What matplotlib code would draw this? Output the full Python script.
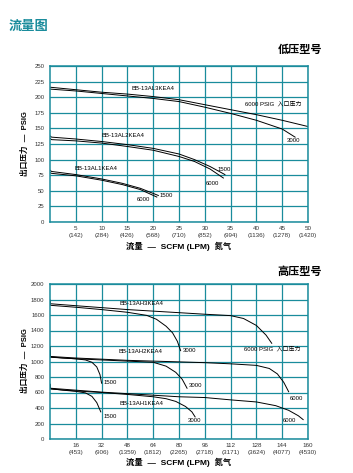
import numpy as np
import matplotlib
matplotlib.use('Agg')
import matplotlib.pyplot as plt

plt.rcParams['font.family'] = ['Liberation Sans', 'Noto Sans CJK SC', 'DejaVu Sans']

teal = '#1a8c9c'

# ---- low pressure models (SCFM, PSIG)
low_xticks = [5, 10, 15, 20, 25, 30, 35, 40, 45, 50]
low_lpm = ['142', '284', '426', '568', '710', '852', '994', '1136', '1278', '1420']
low_yticks = [0, 25, 50, 75, 100, 125, 150, 175, 200, 225, 250]

l3_6000_x = [0, 5, 10, 15, 20, 25, 30, 35, 40, 45, 50]
l3_6000_y = [216, 212, 208, 205, 201, 196, 188, 180, 172, 163, 153]
l3_3000_x = [0, 5, 10, 15, 20, 25, 30, 35, 40, 45, 47.5]
l3_3000_y = [213, 210, 206, 202, 198, 193, 184, 174, 163, 149, 136]

l2_1500_x = [0, 0.3, 5, 10, 15, 20, 25, 28, 31, 33.9]
l2_1500_y = [138, 136, 133, 129, 124, 118, 109, 100, 89, 76]
l2_6000_x = [0, 0.3, 5, 10, 15, 20, 25, 28, 31, 33.6]
l2_6000_y = [134, 132, 130, 126.5, 121, 115, 105, 97, 85, 70.5]

l1_1500_x = [0, 0.3, 5, 10, 14, 17.5, 21]
l1_1500_y = [83, 81, 76, 69, 62, 54, 42.5]
l1_6000_x = [0, 0.3, 5, 10, 14, 17.5, 20.7]
l1_6000_y = [79, 78, 74, 67, 60, 52, 40]

# ---- high pressure models
high_xticks = [16, 32, 48, 64, 80, 96, 112, 128, 144, 160]
high_lpm = ['453', '906', '1359', '1812', '2265', '2718', '3171', '3624', '4077', '4530']
high_yticks = [0, 200, 400, 600, 800, 1000, 1200, 1400, 1600, 1800, 2000]

h3_6000_x = [0, 0.3, 16, 32, 48, 64, 80, 96, 112, 120, 128, 134, 137.5]
h3_6000_y = [1790, 1745, 1720, 1695, 1670, 1650, 1630, 1610, 1592, 1555, 1465, 1340, 1235]
h3_3000_x = [0, 0.3, 16, 32, 48, 60, 66, 72, 76, 79, 81]
h3_3000_y = [1790, 1725, 1700, 1670, 1635, 1595, 1545, 1455, 1370, 1260, 1140]

h2_1500_x = [0, 0.3, 8, 16, 22, 26, 29, 31, 32]
h2_1500_y = [1190, 1060, 1045, 1035, 1020, 990, 930, 830, 720]
h2_3000_x = [0, 0.3, 16, 32, 48, 64, 72, 78, 82, 85]
h2_3000_y = [1190, 1055, 1035, 1020, 1005, 990, 940, 860, 770, 655]
h2_6000_x = [0, 0.3, 16, 32, 48, 64, 80, 96, 112, 128, 136, 141, 145, 148]
h2_6000_y = [1190, 1065, 1045, 1030, 1015, 1005, 995, 985, 970, 950, 910, 840, 730, 610]

h1_1500_x = [0, 0.3, 8, 16, 22, 26, 29, 31.5]
h1_1500_y = [705, 650, 630, 615, 595, 550, 470, 350]
h1_3000_x = [0, 0.3, 16, 32, 48, 64, 72, 78, 84, 88, 90]
h1_3000_y = [705, 645, 620, 600, 575, 545, 520, 485, 420, 350, 285]
h1_6000_x = [0, 0.3, 16, 32, 48, 64, 80, 96, 112, 128, 140, 148, 154, 157]
h1_6000_y = [705, 655, 630, 605, 585, 565, 545, 535, 505, 478, 430, 370, 300, 250]


def setup(ax, xticks, lpm, yticks):
    ax.set_xlim(0, xticks[-1])
    ax.set_ylim(0, yticks[-1])
    ax.set_xticks(xticks)
    ax.set_xticklabels(['%d\n(%s)' % (a, b) for a, b in zip(xticks, lpm)],
                       fontsize=4.5, linespacing=1.4, color='#333333')
    ax.set_yticks(yticks)
    ax.set_yticklabels([str(v) for v in yticks], fontsize=4.3, color='#333333')
    ax.tick_params(length=0)
    ax.tick_params(axis='x', pad=3)
    ax.tick_params(axis='y', pad=4)
    ax.grid(True, color=teal, lw=0.9)
    for s in ax.spines.values():
        s.set_color(teal)
        s.set_linewidth(1.1)
    ax.set_axisbelow(True)


fig = plt.figure(figsize=(3.53, 4.73), dpi=100)

fig.text(9 / 353, 1 - 27 / 473, '流量图', color=teal, fontsize=9.5,
         fontweight='bold', va='center', ha='left')
fig.text(322 / 353, 1 - 50 / 473, '低压型号', fontsize=8,
         fontweight='bold', va='center', ha='right')
fig.text(322 / 353, 1 - 272 / 473, '高压型号', fontsize=8,
         fontweight='bold', va='center', ha='right')

# low pressure chart
ax1 = fig.add_axes([50 / 353, 1 - 222 / 473, 258 / 353, 156 / 473])
setup(ax1, low_xticks, low_lpm, low_yticks)
for xs, ys in [(l3_6000_x, l3_6000_y), (l3_3000_x, l3_3000_y),
               (l2_1500_x, l2_1500_y), (l2_6000_x, l2_6000_y),
               (l1_1500_x, l1_1500_y), (l1_6000_x, l1_6000_y)]:
    ax1.plot(xs, ys, color='black', lw=0.7)

fs = 4.3
ax1.text(15.8, 214, 'BB-13AL3KEA4', fontsize=fs, va='center')
ax1.text(37.8, 188.6, '6000 PSIG  入口压力', fontsize=fs, va='center')
ax1.text(45.9, 130, '3000', fontsize=fs, va='center')
ax1.text(10, 139, 'BB-13AL2KEA4', fontsize=fs, va='center')
ax1.text(32.4, 84.5, '1500', fontsize=fs, va='center')
ax1.text(30.2, 62, '6000', fontsize=fs, va='center')
ax1.text(4.8, 86, 'BB-13AL1KEA4', fontsize=fs, va='center')
ax1.text(21.3, 43, '1500', fontsize=fs, va='center')
ax1.text(16.9, 36, '6000', fontsize=fs, va='center')

# high pressure chart
ax2 = fig.add_axes([50 / 353, 1 - 439 / 473, 258 / 353, 155 / 473])
setup(ax2, high_xticks, high_lpm, high_yticks)
for xs, ys in [(h3_6000_x, h3_6000_y), (h3_3000_x, h3_3000_y),
               (h2_1500_x, h2_1500_y), (h2_3000_x, h2_3000_y), (h2_6000_x, h2_6000_y),
               (h1_1500_x, h1_1500_y), (h1_3000_x, h1_3000_y), (h1_6000_x, h1_6000_y)]:
    ax2.plot(xs, ys, color='black', lw=0.7)

ax2.text(42.8, 1751, 'BB-13AH3KEA4', fontsize=fs, va='center')
ax2.text(120.3, 1161, '6000 PSIG  入口压力', fontsize=fs, va='center')
ax2.text(82.5, 1148, '3000', fontsize=fs, va='center')
ax2.text(42.2, 1126, 'BB-13AH2KEA4', fontsize=fs, va='center')
ax2.text(32.9, 735, '1500', fontsize=fs, va='center')
ax2.text(86.2, 684, '3000', fontsize=fs, va='center')
ax2.text(148.8, 525, '6000', fontsize=fs, va='center')
ax2.text(42.8, 460, 'BB-13AH1KEA4', fontsize=fs, va='center')
ax2.text(32.9, 284, '1500', fontsize=fs, va='center')
ax2.text(85.6, 245, '3000', fontsize=fs, va='center')
ax2.text(144.5, 245, '6000', fontsize=fs, va='center')

# axis titles
for ytxt, ycen in [(246, 144), (462, 361)]:
    fig.text(179 / 353, 1 - ytxt / 473, '流量  —  SCFM (LPM)  氮气', fontsize=6,
             fontweight='bold', ha='center', va='center')
    fig.text(25 / 353, 1 - ycen / 473, '出口压力  —  PSIG', fontsize=5.5,
             fontweight='bold', ha='center', va='center', rotation=90)

fig.savefig('out.png', dpi=100)
